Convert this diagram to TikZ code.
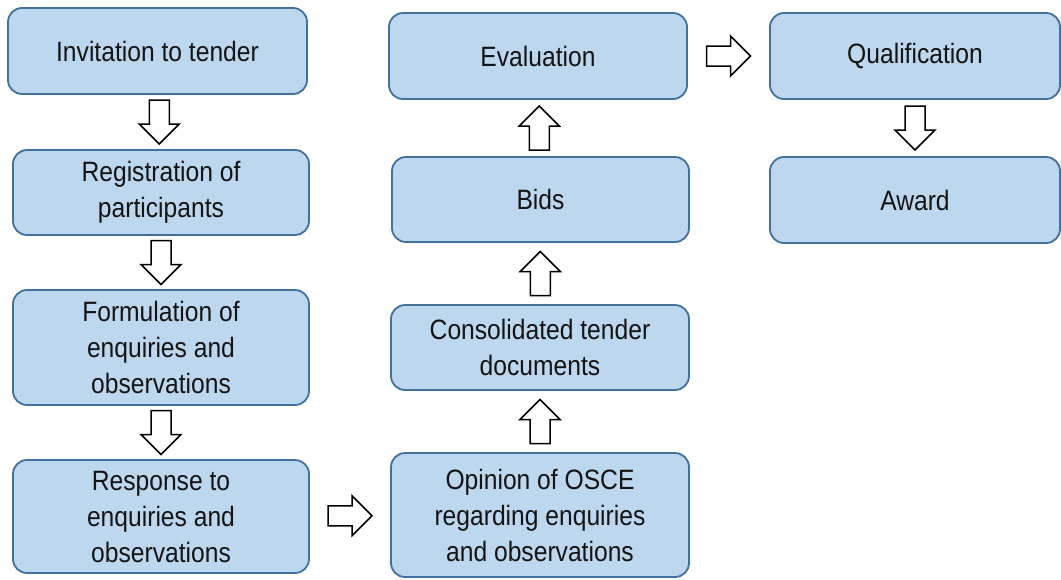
\documentclass[tikz,border=0pt]{standalone}
\usepackage{fontspec}
\setmainfont[FakeStretch=0.88]{Liberation Sans}
\usetikzlibrary{calc}
\definecolor{boxfill}{HTML}{BDD7EE}
\definecolor{boxline}{HTML}{41719C}
\definecolor{inktext}{HTML}{141414}
\begin{document}
\begin{tikzpicture}[x=1pt,y=-1pt,
  stage/.style={draw=boxline, fill=boxfill, line width=1.8pt, rounded corners=14pt,
    align=center, text=inktext, font=\fontsize{28}{36}\selectfont, inner sep=0pt},
  flowarrow/.pic={\draw[line width=1.5pt, fill=white, line join=miter]
    (-22,-10) -- (2,-10) -- (2,-20) -- (22,0) -- (2,20) -- (2,10) -- (-22,10) -- cycle;}
]
\useasboundingbox (0,0) rectangle (1061,579);

% left column
\node[stage, minimum width=299pt, minimum height=86pt]  (inv)  at (157.5,51)  {Invitation to tender};
\node[stage, minimum width=296pt, minimum height=85pt]  (reg)  at (161,192.5) {Registration of\\participants};
\node[stage, minimum width=296pt, minimum height=115pt] (form) at (161,347.5) {Formulation of\\enquiries and\\observations};
\node[stage, minimum width=296pt, minimum height=113pt] (resp) at (161,516.5) {Response to\\enquiries and\\observations};

% middle column
\node[stage, minimum width=298pt, minimum height=86pt]  (eval) at (538,56)    {Evaluation};
\node[stage, minimum width=297pt, minimum height=85pt]  (bids) at (540.5,199.5) {Bids};
\node[stage, minimum width=298pt, minimum height=85pt]  (cons) at (540,347.5) {Consolidated tender\\documents};
\node[stage, minimum width=298pt, minimum height=124pt] (opin) at (540,515)   {Opinion of OSCE\\regarding enquiries\\and observations};

% right column
\node[stage, minimum width=290pt, minimum height=86pt]  (qual)  at (915,56)  {Qualification};
\node[stage, minimum width=290pt, minimum height=86pt]  (award) at (915,200) {Award};

% block arrows between the stages
\pic[rotate=-90] at ($(inv.south)!0.5!(reg.north)$)   {flowarrow};
\pic[rotate=-90] at ($(reg.south)!0.5!(form.north)$)  {flowarrow};
\pic[rotate=-90] at ($(form.south)!0.5!(resp.north)$) {flowarrow};
\pic at ($(resp.east)!0.5!(opin.west)$)               {flowarrow};
\pic[rotate=90]  at ($(opin.north)!0.5!(cons.south)$) {flowarrow};
\pic[rotate=90]  at ($(cons.north)!0.5!(bids.south)$) {flowarrow};
\pic[rotate=90]  at ($(bids.north)!0.5!(eval.south)$) {flowarrow};
\pic at ($(eval.east)!0.5!(qual.west)$)               {flowarrow};
\pic[rotate=-90] at ($(qual.south)!0.5!(award.north)$) {flowarrow};
\end{tikzpicture}
\end{document}
